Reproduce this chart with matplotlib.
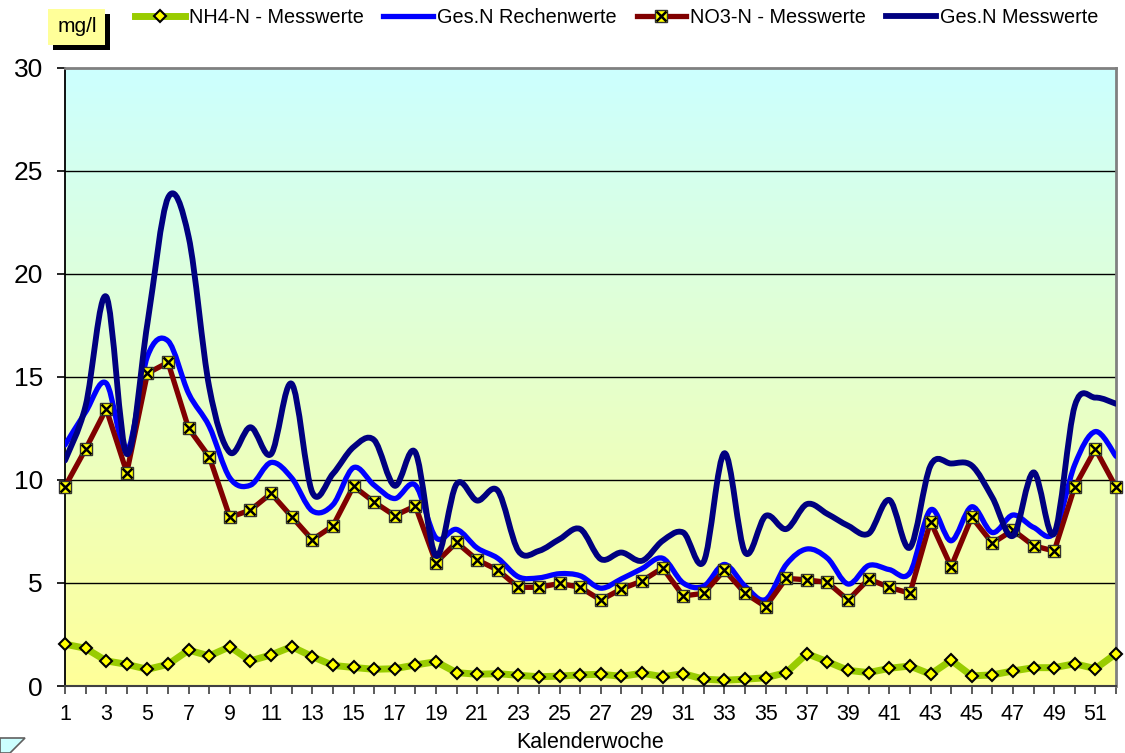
import matplotlib.pyplot as plt
import numpy as np
from matplotlib.path import Path
from matplotlib.patches import PathPatch, Rectangle, Polygon
from matplotlib.lines import Line2D

plt.rcParams['font.family'] = ['Liberation Sans', 'DejaVu Sans']

# Kalenderwochen 1..52
wochen = list(range(1, 53))
x_labels = [str(w) if w % 2 == 1 else '' for w in wochen]

nh4 = [2.03, 1.83, 1.22, 1.05, 0.81, 1.05, 1.74, 1.46, 1.91, 1.22,
       1.51, 1.91, 1.43, 1.00, 0.90, 0.81, 0.84, 1.02, 1.18, 0.65,
       0.57, 0.60, 0.52, 0.45, 0.48, 0.54, 0.57, 0.47, 0.62, 0.45,
       0.60, 0.33, 0.28, 0.33, 0.40, 0.65, 1.57, 1.18, 0.76, 0.65,
       0.86, 0.97, 0.57, 1.25, 0.49, 0.54, 0.73, 0.89, 0.89, 1.08,
       0.84, 1.57]

no3 = [9.68, 11.5, 13.45, 10.36, 15.18, 15.71, 12.5, 11.13, 8.19, 8.54,
       9.35, 8.22, 7.10, 7.77, 9.70, 8.93, 8.27, 8.74, 5.99, 6.97,
       6.12, 5.63, 4.79, 4.79, 4.98, 4.79, 4.17, 4.71, 5.10, 5.73,
       4.37, 4.50, 5.63, 4.50, 3.85, 5.23, 5.15, 5.03, 4.17, 5.19,
       4.79, 4.50, 7.98, 5.79, 8.20, 6.93, 7.57, 6.81, 6.55, 9.68,
       11.5, 9.65]

gesn_rech = [11.7, 13.3, 14.7, 11.4, 16.0, 16.75, 14.2, 12.6, 10.1, 9.75,
             10.85, 10.1, 8.5, 8.8, 10.6, 9.75, 9.1, 9.75, 7.2, 7.6,
             6.7, 6.2, 5.3, 5.25, 5.45, 5.35, 4.75, 5.2, 5.7, 6.2,
             5.0, 4.85, 5.9, 4.85, 4.2, 5.9, 6.65, 6.2, 4.95, 5.85,
             5.65, 5.5, 8.55, 7.05, 8.7, 7.45, 8.3, 7.7, 7.45, 10.75,
             12.35, 11.15]

gesn_mess = [10.95, 13.6, 18.9, 11.26, 17.6, 23.7, 21.8, 14.5, 11.34, 12.56,
             11.26, 14.67, 9.4, 10.3, 11.6, 11.94, 9.72, 11.34, 6.32, 9.8,
             9.0, 9.48, 6.56, 6.56, 7.13, 7.62, 6.16, 6.48, 6.08, 7.05,
             7.45, 6.05, 11.3, 6.48, 8.26, 7.62, 8.83, 8.35, 7.78, 7.4,
             9.03, 6.72, 10.7, 10.8, 10.7, 9.15, 7.29, 10.37, 7.4, 13.6,
             14.0, 13.7]


def glatt(x, y):
    # Bezier-Glaettung wie in Excel
    n = len(x)
    verts = [(x[0], y[0])]
    codes = [Path.MOVETO]
    for i in range(n - 1):
        x0, y0 = (x[i - 1], y[i - 1]) if i > 0 else (x[i], y[i])
        x3, y3 = (x[i + 2], y[i + 2]) if i + 2 < n else (x[i + 1], y[i + 1])
        c1 = (x[i] + (x[i + 1] - x0) / 6.0, y[i] + (y[i + 1] - y0) / 6.0)
        c2 = (x[i + 1] - (x3 - x[i]) / 6.0, y[i + 1] - (y3 - y[i]) / 6.0)
        verts += [c1, c2, (x[i + 1], y[i + 1])]
        codes += [Path.CURVE4] * 3
    return Path(verts, codes)


fig = plt.figure(figsize=(11.25, 7.53), dpi=100)
ax = fig.add_axes([65 / 1125, 1 - 686 / 753, (1116 - 65) / 1125, (686 - 68) / 753])

# Hintergrund-Verlauf
grad = np.linspace(0, 1, 256).reshape(-1, 1)
c_top = np.array([0.80, 1.0, 1.0])
c_bot = np.array([1.0, 1.0, 0.60])
img = c_top * (1 - grad[:, :, None]) + c_bot * grad[:, :, None]
ax.imshow(img, extent=[1, 52, 0, 30], aspect='auto', zorder=0, origin='upper')

for g in [5, 10, 15, 20, 25]:
    ax.axhline(g, color='black', lw=1.0, zorder=1)

ax.plot(wochen, nh4, color='#99CC00', lw=5, marker='D', ms=6.5,
        mfc='#FFFF00', mec='black', mew=1.5, zorder=3, clip_on=False)

ax.add_patch(PathPatch(glatt(wochen, gesn_rech), fill=False, edgecolor='#0000FF',
                       lw=3.8, zorder=4, capstyle='round', joinstyle='round'))

ax.plot(wochen, no3, color='#800000', lw=3.8, zorder=5, clip_on=False)
ax.plot(wochen, no3, ls='none', marker='s', ms=8, mfc='#FFFF00', mec='#333333',
        mew=1.0, zorder=6, clip_on=False)
ax.plot(wochen, no3, ls='none', marker='x', ms=6.5, mec='black', mew=1.8,
        zorder=7, clip_on=False)

ax.add_patch(PathPatch(glatt(wochen, gesn_mess), fill=False, edgecolor='#000080',
                       lw=4.2, zorder=8, capstyle='round', joinstyle='round'))

ax.set_xlim(1, 52)
ax.set_ylim(0, 30)
ax.set_xticks(wochen)
ax.set_xticklabels(x_labels, fontsize=15.5)
ax.set_yticks([0, 5, 10, 15, 20, 25, 30])
ax.set_yticklabels(['0', '5', '10', '15', '20', '25', '30'], fontsize=19)
ax.tick_params(axis='x', direction='out', length=6, width=1.2, color='#404040', pad=7)
ax.tick_params(axis='y', direction='out', length=6, width=1.2, color='black', pad=10)
ax.set_xlabel('Kalenderwoche', fontsize=15.5, labelpad=5)

ax.spines['left'].set_color('black')
ax.spines['left'].set_linewidth(1.3)
ax.spines['bottom'].set_color('#404040')
ax.spines['bottom'].set_linewidth(1.5)
for s in ['top', 'right']:
    ax.spines[s].set_color('#808080')
    ax.spines[s].set_linewidth(2)

# Legende
h_nh4 = Line2D([], [], color='#99CC00', lw=5, marker='D', ms=6.5,
               mfc='#FFFF00', mec='black', mew=1.5)
h_rech = Line2D([], [], color='#0000FF', lw=3.8)
h_no3a = Line2D([], [], color='#800000', lw=3.8, marker='s', ms=8,
                mfc='#FFFF00', mec='#333333', mew=1.0)
h_no3b = Line2D([], [], ls='none', marker='x', ms=6.5, mec='black', mew=1.8)
h_mess = Line2D([], [], color='#000080', lw=4.2)
fig.legend([h_nh4, h_rech, (h_no3a, h_no3b), h_mess],
           ['NH4-N - Messwerte', 'Ges.N Rechenwerte', 'NO3-N - Messwerte', 'Ges.N Messwerte'],
           loc='center', bbox_to_anchor=(0.548, 0.977), ncol=4, frameon=False,
           fontsize=14.3, handlelength=2.5, handletextpad=0.2, columnspacing=1.0,
           numpoints=1)

# mg/l Kasten mit Schatten
fig.patches.append(Rectangle((53 / 1125, 1 - 50 / 753), 57 / 1125, 36 / 753,
                             transform=fig.transFigure, facecolor='black', zorder=1))
fig.patches.append(Rectangle((48 / 1125, 1 - 45 / 753), 57 / 1125, 36 / 753,
                             transform=fig.transFigure, facecolor='#FFFF99', zorder=2))
fig.text(77 / 1125, 1 - 27 / 753, 'mg/l', fontsize=15, ha='center', va='center', zorder=3)

# angeschnittene Form unten links
fig.patches.append(Polygon([(0, 15 / 753), (25 / 1125, 15 / 753), (10 / 1125, 0), (0, 0)],
                           closed=True, transform=fig.transFigure,
                           facecolor='#CCFFFF', edgecolor='#606060', lw=1.2))

fig.savefig('out.png', dpi=100)
